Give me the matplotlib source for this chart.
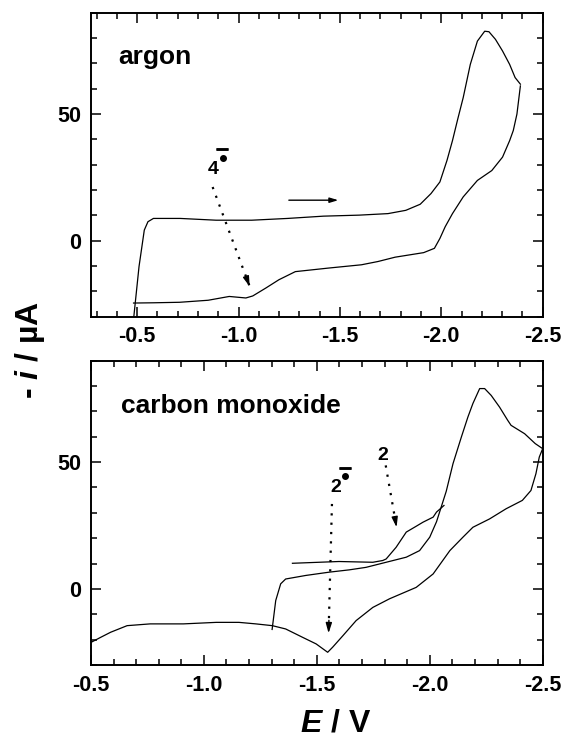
import matplotlib
matplotlib.use('Agg')
import matplotlib.pyplot as plt
from matplotlib.ticker import MultipleLocator, FuncFormatter
from matplotlib.transforms import offset_copy

plt.rcParams['font.family'] = ['Liberation Sans', 'DejaVu Sans']
plt.rcParams['font.weight'] = 'bold'
plt.rcParams['mathtext.fontset'] = 'custom'
plt.rcParams['mathtext.it'] = 'Liberation Sans:bold:italic'
plt.rcParams['mathtext.rm'] = 'Liberation Sans:bold'

# argon, forward scan (E in V, -i in uA)
ar_fwd_E = [-0.482, -0.509, -0.535, -0.553, -0.58, -0.712, -0.889, -1.065, -1.242, -1.419,
            -1.595, -1.737, -1.825, -1.896, -1.949, -1.993, -2.028, -2.055, -2.081, -2.108,
            -2.143, -2.178, -2.214, -2.235, -2.267, -2.302, -2.337, -2.364, -2.39]
ar_fwd_i = [-31, -10.2, 4.2, 7.5, 8.8, 8.8, 8.1, 8.1, 8.8, 9.7,
            10.1, 10.7, 12.0, 14.4, 18.6, 23.2, 31.7, 39.5, 48.0, 56.5,
            69.6, 78.8, 82.7, 82.5, 79.5, 74.9, 69.6, 64.4, 61.8]
# argon, reverse scan
ar_rev_E = [-2.39, -2.373, -2.355, -2.337, -2.302, -2.249, -2.178, -2.108, -2.055, -2.019,
            -1.993, -1.966, -1.913, -1.772, -1.688, -1.606, -1.443, -1.28, -1.199, -1.134,
            -1.07, -1.036, -0.954, -0.85, -0.709, -0.58, -0.482]
ar_rev_i = [61.1, 50.0, 43.5, 39.5, 33.0, 27.7, 23.8, 17.3, 10.7, 5.5,
            0.9, -3.0, -4.7, -6.5, -8.2, -9.5, -10.8, -12.2, -15.4, -18.7,
            -21.8, -22.6, -22.0, -23.5, -24.3, -24.5, -24.6]

# carbon monoxide, first forward scan
co_fwd_E = [-1.302, -1.318, -1.34, -1.362, -1.451, -1.555, -1.643, -1.718, -1.807, -1.896,
            -1.955, -2.0, -2.03, -2.073, -2.103, -2.14, -2.169, -2.191, -2.221, -2.243,
            -2.272, -2.309, -2.345, -2.36, -2.42, -2.467, -2.5]
co_fwd_i = [-16.0, -4.6, 2.0, 3.9, 5.3, 6.6, 7.5, 8.5, 10.5, 12.5,
            15.1, 20.4, 26.5, 38.5, 49.4, 59.9, 67.8, 73.1, 79.0, 79.0,
            76.3, 71.7, 66.5, 64.5, 61.2, 57.3, 55.3]
# carbon monoxide, reverse scan
co_rev_E = [-2.5, -2.485, -2.47, -2.448, -2.41, -2.338, -2.265, -2.191, -2.147, -2.089,
            -2.015, -1.94, -1.822, -1.748, -1.674, -1.615, -1.57, -1.548, -1.497, -1.437,
            -1.362, -1.303, -1.23, -1.155, -1.055, -0.909, -0.762, -0.66, -0.587, -0.543, -0.5]
co_rev_i = [55.3, 52.0, 45.4, 38.8, 34.9, 31.6, 27.6, 24.3, 20.4, 15.1,
            5.9, 0.6, -3.9, -7.3, -12.5, -18.5, -23.0, -25.0, -21.7, -19.1,
            -15.8, -14.5, -13.8, -13.2, -13.2, -13.8, -13.8, -14.5, -17.1, -19.1, -21.1]
# carbon monoxide, second scan
co_2nd_E = [-1.392, -1.598, -1.748, -1.792, -1.807, -1.851, -1.896, -1.938, -1.97, -2.015, -2.03, -2.063]
co_2nd_i = [10.1, 10.8, 10.5, 11.2, 11.8, 16.4, 22.4, 24.6, 26.3, 28.3, 30.3, 32.9]

fig = plt.figure(figsize=(5.64, 7.40), dpi=100)
ax1 = fig.add_axes([0.1613, 0.572, 0.8009, 0.4108])
ax2 = fig.add_axes([0.1613, 0.1014, 0.8009, 0.4112])

for ax in (ax1, ax2):
    ax.xaxis.set_major_locator(MultipleLocator(0.5))
    ax.xaxis.set_minor_locator(MultipleLocator(0.1))
    ax.yaxis.set_major_locator(MultipleLocator(50))
    ax.yaxis.set_minor_locator(MultipleLocator(10))
    ax.tick_params(which='both', direction='in', top=True, right=True, width=1.1,
                   labelsize=15.5, colors='black')
    ax.tick_params(which='major', length=7, pad=7)
    ax.tick_params(which='minor', length=4.3)
    for s in ax.spines.values():
        s.set_linewidth(1.4)
    ax.xaxis.set_major_formatter(FuncFormatter(lambda v, p: f'{v:.1f}'))
    ax.yaxis.set_major_formatter(FuncFormatter(lambda v, p: f'{v:.0f}'))

ax1.plot(ar_fwd_E, ar_fwd_i, color='black', lw=0.9)
ax1.plot(ar_rev_E, ar_rev_i, color='black', lw=0.9)
ax1.set_xlim(-0.272, -2.5)
ax1.set_ylim(-30, 90)

ax2.plot(co_fwd_E, co_fwd_i, color='black', lw=0.9)
ax2.plot(co_rev_E, co_rev_i, color='black', lw=0.9)
ax2.plot(co_2nd_E, co_2nd_i, color='black', lw=0.9)
ax2.set_xlim(-0.5, -2.5)
ax2.set_ylim(-30, 90)

ax1.text(0.0605, 0.83, 'argon', transform=ax1.transAxes, fontsize=19, fontweight='bold')
ax2.text(0.066, 0.829, 'carbon monoxide', transform=ax2.transAxes, fontsize=19, fontweight='bold')


def dotted_arrow(ax, start, tip):
    ax.plot([start[0], tip[0]], [start[1], tip[1]], color='black', lw=1.6, ls=(0, (1, 3.2)))
    back = (tip[0] + 0.1 * (start[0] - tip[0]), tip[1] + 0.1 * (start[1] - tip[1]))
    ax.annotate('', xy=tip, xytext=back,
                arrowprops=dict(arrowstyle='-|>,head_length=0.6,head_width=0.18',
                                color='black', lw=1, shrinkA=0, shrinkB=0))


def radical_label(ax, x, y, num):
    # number with a radical-anion superscript: dot, with the minus bar above it
    ax.text(x, y, num, ha='center', va='baseline', fontsize=14, fontweight='bold')
    dot_tr = offset_copy(ax.transData, fig=fig, x=7, y=11.5, units='points')
    ax.plot([x], [y], marker='o', ms=4, color='black', transform=dot_tr, clip_on=False)
    bar_tr = offset_copy(ax.transData, fig=fig, x=6.6, y=17.5, units='points')
    ax.plot([x, x], [y, y], marker='_', ms=8, mew=1.8, color='black',
            transform=bar_tr, clip_on=False)


radical_label(ax1, -0.873, 26.5, '4')
dotted_arrow(ax1, (-0.872, 21.2), (-1.055, -18.1))
ax1.annotate('', xy=(-1.492, 16), xytext=(-1.248, 16),
             arrowprops=dict(arrowstyle='-|>,head_length=0.5,head_width=0.15',
                             color='black', lw=1, shrinkA=0, shrinkB=0))

radical_label(ax2, -1.583, 38.2, '2')
dotted_arrow(ax2, (-1.567, 33.5), (-1.552, -17.5))
ax2.text(-1.79, 50.9, '2', ha='center', va='baseline', fontsize=14, fontweight='bold')
dotted_arrow(ax2, (-1.805, 48.7), (-1.853, 24.3))

fig.text(0.053, 0.527, r'- $\it{i}$ / µA', rotation=90, ha='center', va='center',
         fontsize=23, fontweight='bold')
fig.text(0.595, 0.012, r'$\it{E}$ / V', ha='center', va='baseline',
         fontsize=23, fontweight='bold')

fig.savefig('out.png', dpi=100)
